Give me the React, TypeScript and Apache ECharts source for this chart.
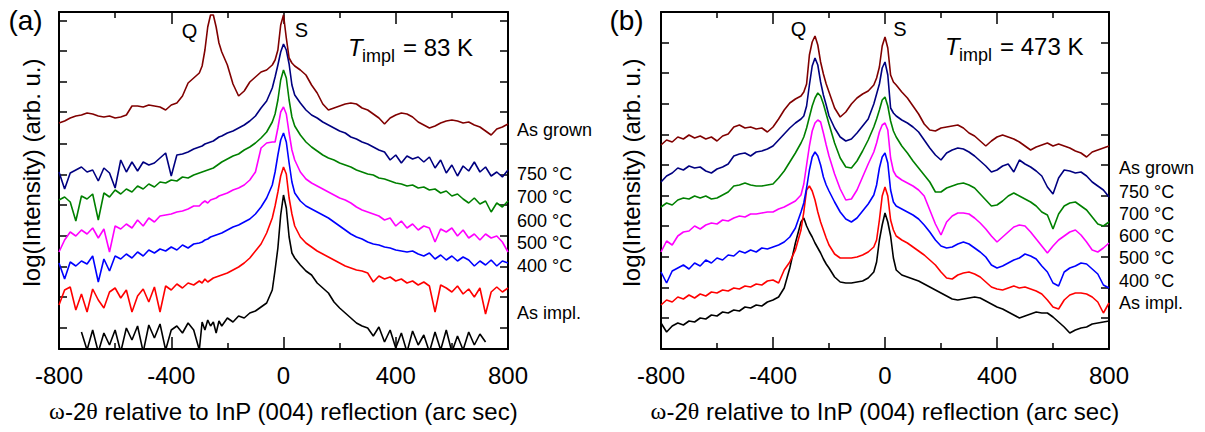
import { useEffect, useRef } from "react";
import * as echarts from "echarts";

// ---------- Panel (a): T_impl = 83 K ----------
const XA = [
  -800, -780, -760, -740, -720, -700, -680, -660, -640, -620, -600, -580, -560, -540, -520, -500, -480, -460, -440, -420, -400, -380, -360, -340, -320, -300,
  -290, -280, -270, -260, -250, -240, -230, -220,
  -200, -180, -160, -140, -120, -100, -80, -60, -40,
  -30, -20, -10, 0, 10, 20, 30,
  40, 60, 80, 100, 120, 140, 160, 180, 200, 220, 240, 260, 280, 300, 320, 340, 360, 380, 400, 420, 440, 460, 480, 500, 520, 540, 560, 580, 600, 620, 640, 660, 680, 700, 720, 740, 760, 780, 800,
];
const A_AS_GROWN = [
  226, 228, 231, 233, 234, 236, 235, 233, 232, 233, 231, 232, 234, 243, 243, 242, 244, 243, 242, 239, 244, 246, 253, 266, 271, 276,
  283, 299, 322, 334, 334, 322, 306, 297,
  284, 265, 253, 258, 267, 272, 277, 279, 284,
  289, 299, 324, 334, 311, 291, 286,
  283, 279, 274, 264, 256, 245, 239, 241, 243, 245, 246, 245, 241, 239, 235, 231, 225, 231, 234, 236, 235, 232, 227, 224, 221, 223, 226, 228, 229, 228, 226, 227, 224, 222, 218, 214, 220, 222, 225,
];
const A_750 = [
  177, 160, 176, 179, 182, 177, 179, 168, 181, 176, 161, 189, 177, 187, 178, 187, 184, 186, 191, 196, 173, 194, 195, 197, 200, 202,
  203, 205, 206, 207, 208, 210, 212, 213,
  216, 218, 221, 224, 228, 233, 241, 248, 261,
  272, 284, 297, 305, 299, 285, 264,
  254, 246, 239, 234, 231, 227, 224, 221, 218, 216, 212, 210, 207, 205, 202, 199, 197, 189, 194, 186, 193, 190, 192, 187, 192, 181, 189, 176, 184, 173, 183, 178, 187, 177, 182, 173, 177, 172, 179,
];
const A_700 = [
  149, 152, 147, 128, 153, 150, 155, 129, 156, 152, 159, 155, 160, 157, 163, 160, 165, 162, 167, 166, 169, 168, 172, 171, 174, 176,
  177, 178, 179, 180, 181, 183, 185, 187,
  190, 193, 195, 199, 202, 206, 211, 217, 227,
  235, 249, 269, 279, 271, 249, 232,
  223, 214, 207, 202, 198, 194, 191, 189, 186, 184, 182, 179, 177, 175, 174, 171, 170, 168, 166, 165, 163, 164, 161, 162, 159, 160, 156, 158, 153, 155, 150, 146, 151, 145, 148, 137, 146, 142, 148,
];
const A_600 = [
  97, 109, 117, 113, 119, 115, 121, 111, 120, 97, 123, 120, 125, 121, 129, 123, 131, 127, 133, 134, 135, 137, 138, 140, 143, 143,
  146, 148, 146, 149, 150, 151, 153, 154,
  156, 159, 161, 164, 169, 177, 201, 206, 207,
  207, 221, 237, 242, 235, 216, 199,
  189, 177, 170, 166, 163, 160, 157, 154, 151, 149, 146, 142, 139, 137, 135, 133, 129, 131, 123, 128, 121, 125, 119, 123, 121, 107, 120, 117, 121, 113, 119, 111, 115, 109, 115, 111, 113, 107, 97,
];
const A_500 = [
  86, 70, 87, 83, 88, 85, 93, 67, 90, 78, 93, 90, 95, 91, 97, 93, 99, 96, 100, 98, 102, 99, 104, 101, 105, 106,
  107, 109, 110, 112, 113, 114, 115, 116,
  119, 122, 124, 127, 130, 135, 142, 151, 164,
  177, 194, 209, 216, 207, 186, 167,
  156, 148, 143, 140, 137, 134, 131, 127, 123, 119, 115, 112, 110, 107, 105, 104, 102, 101, 99, 98, 97, 98, 95, 93, 96, 90, 94, 89, 93, 88, 92, 89, 83, 88, 84, 89, 83, 88, 86,
];
const A_400 = [
  44, 59, 62, 39, 55, 37, 60, 49, 41, 57, 61, 51, 59, 37, 53, 60, 47, 62, 37, 63, 59, 65, 61, 66, 64, 68,
  66, 70, 67, 69, 71, 72, 73, 74,
  76, 79, 82, 86, 91, 98, 105, 116, 131,
  143, 157, 173, 182, 175, 151, 135,
  123, 112, 106, 102, 98, 95, 92, 89, 86, 83, 81, 79, 78, 76, 67, 73, 70, 72, 68, 70, 66, 68, 64, 67, 63, 37, 64, 61, 57, 63, 55, 60, 52, 61, 35, 57, 62, 57, 61,
];
const A_AS_IMPL = [
  null, null, null, null, 17, -1, 19, -3, 16, 4, 19, -3, 21, 9, 23, -3, 24, 11, 25, -1, 19, 23, 16, 26, 19, -1,
  27, 19, 29, 23, 27, 16, 28, 23,
  31, 27, 33, 31, 36, 38, 42, 46, 59,
  79, 101, 134, 154, 141, 112, 96,
  91, 84, 78, 74, 66, 61, 56, 47, 41, 36, 31, 26, 23, 21, 13, 22, 7, 19, 1, 16, -3, 18, 4, 14, -3, 17, -1, 19, -3, 13, -1, 17, 4, 15, 7, null, null, null, null,
];

// ---------- Panel (b): T_impl = 473 K ----------
const XB = [
  -800, -780, -760, -740, -720, -700, -680, -660, -640, -620, -600, -580, -560, -540, -520, -500, -480, -460, -440, -420, -400, -380, -360, -340, -320, -300,
  -290, -280, -270, -260, -250, -240, -230, -220, -210, -200,
  -180, -160, -140, -120, -100, -80, -60, -40,
  -30, -20, -10, 0, 10, 20, 30,
  40, 60, 80, 100, 120, 140, 160, 180, 200, 220, 240, 260, 280, 300, 320, 340, 360, 380, 400, 420, 440, 460, 480, 500, 520, 540, 560, 580, 600, 620, 640, 660, 680, 700, 720, 740, 760, 780, 800,
];
const B_AS_GROWN = [
  204, 209, 207, 212, 210, 214, 211, 213, 210, 212, 208, 213, 215, 222, 224, 221, 222, 220, 221, 217, 222, 230, 239, 246, 250, 253,
  257, 265, 294, 307, 313, 304, 287, 275, 265, 257,
  241, 232, 237, 245, 251, 255, 258, 264,
  271, 282, 303, 312, 301, 274, 267,
  264, 257, 251, 243, 235, 225, 219, 218, 221, 222, 223, 224, 221, 216, 213, 208, 203, 208, 212, 214, 212, 210, 207, 203, 199, 202, 204, 206, 203, 205, 203, 201, 198, 196, 192, 197, 199, 201, 203,
];
const B_750 = [
  167, 173, 176, 181, 179, 183, 181, 182, 178, 176, 180, 182, 185, 193, 195, 196, 193, 197, 198, 200, 203, 209, 215, 221, 226, 230,
  233, 243, 264, 283, 291, 284, 267, 254, 244, 233,
  221, 212, 208, 210, 216, 223, 230, 245,
  255, 265, 281, 287, 274, 241, 236,
  233, 229, 226, 222, 217, 209, 201, 194, 189, 196, 199, 201, 200, 197, 193, 188, 183, 177, 179, 183, 185, 177, 189, 185, 182, 178, 173, 162, 155, 171, 179, 178, 176, 177, 173, 167, 163, 159, 152,
];
const B_700 = [
  142, 146, 144, 149, 151, 150, 153, 151, 153, 150, 151, 154, 157, 163, 164, 166, 164, 163, 163, 164, 165, 171, 178, 187, 196, 206,
  212, 221, 232, 243, 251, 256, 253, 245, 235, 225,
  206, 191, 182, 181, 188, 198, 209, 222,
  230, 239, 249, 252, 243, 228, 218,
  212, 203, 196, 188, 181, 174, 167, 157, 157, 161, 163, 165, 166, 164, 161, 155, 149, 143, 144, 148, 153, 156, 153, 150, 147, 143, 137, 134, 120, 135, 143, 146, 147, 143, 139, 132, 125, 123, 127,
];
const B_600 = [
  97, 108, 104, 113, 117, 118, 123, 120, 124, 126, 125, 129, 128, 131, 133, 132, 135, 135, 136, 137, 137, 140, 142, 145, 148, 154,
  165, 184, 203, 218, 226, 229, 227, 216, 204, 193,
  175, 160, 149, 150, 159, 172, 185, 197,
  206, 217, 224, 226, 219, 191, 178,
  173, 169, 166, 163, 159, 153, 139, 125, 114, 127, 133, 136, 136, 135, 131, 126, 120, 113, 107, 112, 117, 122, 124, 123, 117, 110, 103, 96, 103, 109, 113, 117, 119, 114, 107, 99, 97, 101, 106,
];
const B_500 = [
  77, 66, 78, 81, 84, 80, 86, 83, 89, 86, 91, 89, 94, 93, 98, 96, 99, 97, 101, 100, 102, 104, 107, 112, 121, 137,
  146, 161, 179, 192, 197, 193, 184, 172, 164, 158,
  147, 137, 130, 127, 131, 138, 145, 154,
  164, 181, 192, 196, 186, 159, 147,
  143, 140, 137, 134, 130, 124, 117, 109, 103, 101, 102, 105, 107, 105, 101, 97, 92, 84, 81, 83, 86, 89, 91, 95, 93, 90, 83, 77, 66, 63, 77, 81, 83, 86, 85, 80, 75, 64, 61,
];
const B_400 = [
  44, 49, 47, 52, 50, 54, 51, 55, 53, 57, 56, 59, 58, 61, 60, 63, 62, 65, 64, 68, 69, 66, 79, 87, 99, 119,
  137, 159, 163, 158, 149, 137, 127, 119, 111, 104,
  95, 91, 91, 91, 92, 94, 97, 102,
  109, 129, 153, 162, 153, 129, 119,
  113, 109, 106, 102, 98, 94, 89, 84, 77, 71, 70, 74, 76, 77, 75, 72, 67, 62, 60, 59, 61, 63, 61, 62, 60, 58, 55, 49, 42, 40, 49, 54, 56, 56, 55, 52, 47, 36, 46,
];
const B_AS_IMPL = [
  26, 17, 23, 26, 24, 28, 27, 31, 30, 34, 33, 37, 36, 39, 38, 42, 41, 44, 43, 47, 49, 52, 61, 81, 106, 127,
  131, 123, 117, 112, 106, 101, 96, 90, 85, 81,
  72, 67, 66, 66, 67, 68, 71, 77,
  87, 109, 124, 136, 127, 113, 91,
  79, 74, 72, 70, 68, 65, 62, 59, 56, 53, 50, 49, 50, 51, 52, 51, 48, 45, 42, 40, 37, 34, 31, 33, 35, 37, 36, 36, 32, 27, 22, 16, 19, 21, 22, 25, 26, 27, 28,
];

const CURVE_LABELS = ["As grown", "750 °C", "700 °C", "600 °C", "500 °C", "400 °C", "As impl."];
const COLORS = ["#800000", "#000080", "#008000", "#ff00ff", "#0000ff", "#ff0000", "#000000"];
const Y_TICKS_A = [21, 52, 82, 113, 144, 174, 205, 237, 267, 298, 328];
const Y_TICKS_B = [31, 61, 92, 123, 153, 184, 214, 245, 276, 306];

const FONT = "'Liberation Sans', Arial, Helvetica, sans-serif";

export default function App() {
  const ref = useRef<HTMLDivElement>(null);
  useEffect(() => {
    if (!ref.current) return;
    const chart = echarts.init(ref.current, null, { renderer: "svg" });

    const lineStyle = { color: "#000", width: 2 };
    const tickStyle = { color: "#000", width: 1.5 };
    const xName = "{g|ω}-2{g|θ} relative to InP (004) reflection (arc sec)";

    const xAxis = (gridIndex: number, position: string, labels: boolean) => ({
      type: "value",
      gridIndex,
      position,
      min: -800,
      max: 800,
      interval: 400,
      axisLine: { show: true, onZero: false, lineStyle },
      axisTick: { show: true, inside: true, length: 12, lineStyle: tickStyle },
      minorTick: { show: true, splitNumber: 2, length: 6, lineStyle: tickStyle },
      splitLine: { show: false },
      minorSplitLine: { show: false },
      axisLabel: { show: labels, fontSize: 24, color: "#000", fontFamily: FONT, margin: 14 },
      name: labels ? xName : "",
      nameLocation: "middle",
      nameGap: 50,
      nameTextStyle: {
        fontSize: 24,
        color: "#000",
        fontFamily: FONT,
        rich: { g: { fontFamily: "'Liberation Serif', 'Times New Roman', serif", fontSize: 24, color: "#000" } },
      },
    });
    const yAxis = (gridIndex: number, position: string, ticks: number[]) => ({
      type: "value",
      gridIndex,
      position,
      min: 0,
      max: 337,
      axisLine: { show: true, onZero: false, lineStyle },
      axisTick: { show: true, inside: true, length: 8, customValues: ticks, lineStyle: tickStyle },
      axisLabel: { show: false },
      splitLine: { show: false },
    });

    const mk = (xs: number[], ys: (number | null)[], idx: number, xi: number, yi: number) => ({
      type: "line",
      name: CURVE_LABELS[idx] + (xi === 0 ? " (a)" : " (b)"),
      xAxisIndex: xi,
      yAxisIndex: yi,
      data: xs.map((x, i) => [x, ys[i]]).filter((p) => p[1] !== null),
      showSymbol: false,
      symbol: "none",
      silent: true,
      z: 10 - idx,
      lineStyle: { color: COLORS[idx], width: 1.6 },
      itemStyle: { color: COLORS[idx] },
    });

    const A = [A_AS_GROWN, A_750, A_700, A_600, A_500, A_400, A_AS_IMPL];
    const B = [B_AS_GROWN, B_750, B_700, B_600, B_500, B_400, B_AS_IMPL];

    const txt = (x: number, y: number, text: string, font: string, align = "center", extra: any = {}) => ({
      type: "text",
      x,
      y,
      ...extra,
      style: { text, font, fill: "#000", textAlign: align, textVerticalAlign: "middle", align, verticalAlign: "middle" },
    });

    const labelYA = [130, 174, 197, 221, 243, 266, 313];
    const labelYB = [168, 192, 214, 236, 258, 281, 303];

    const graphic: any[] = [
      txt(25.5, 20.5, "(a)", `28px ${FONT}`),
      txt(626.5, 20.5, "(b)", `28px ${FONT}`),
      txt(189.5, 31, "Q", `20px ${FONT}`),
      txt(301.5, 29.5, "S", `20px ${FONT}`),
      txt(798.5, 29, "Q", `20px ${FONT}`),
      txt(900, 28.5, "S", `20px ${FONT}`),
      txt(348, 47.5, "T", `italic 24px ${FONT}`, "left"),
      txt(362, 55.5, "impl", `18px ${FONT}`, "left"),
      txt(403, 47.5, "= 83 K", `24px ${FONT}`, "left"),
      txt(945, 46.5, "T", `italic 24px ${FONT}`, "left"),
      txt(959, 54.5, "impl", `18px ${FONT}`, "left"),
      txt(1000, 46.5, "= 473 K", `24px ${FONT}`, "left"),
      txt(31, 172.5, "log(Intensity) (arb. u.)", `24px ${FONT}`, "center", { rotation: Math.PI / 2 }),
      txt(631, 172.5, "log(Intensity) (arb. u.)", `24px ${FONT}`, "center", { rotation: Math.PI / 2 }),
      ...CURVE_LABELS.map((t, i) => txt(517, labelYA[i], t, `18px ${FONT}`, "left")),
      ...CURVE_LABELS.map((t, i) => txt(1119, labelYB[i], t, `18px ${FONT}`, "left")),
    ];

    chart.setOption({
      animation: false,
      backgroundColor: "#fff",
      textStyle: { fontFamily: FONT },
      grid: [
        { left: 59, top: 12, width: 449, height: 337, containLabel: false },
        { left: 661, top: 12, width: 448, height: 337, containLabel: false },
      ],
      xAxis: [xAxis(0, "bottom", true), xAxis(0, "top", false), xAxis(1, "bottom", true), xAxis(1, "top", false)],
      yAxis: [yAxis(0, "left", Y_TICKS_A), yAxis(0, "right", Y_TICKS_A), yAxis(1, "left", Y_TICKS_B), yAxis(1, "right", Y_TICKS_B)],
      series: [...A.map((ys, i) => mk(XA, ys, i, 0, 0)), ...B.map((ys, i) => mk(XB, ys, i, 2, 2))],
      graphic,
    });
    return () => chart.dispose();
  }, []);
  return (
    <div
      ref={ref}
      style={{ position: "absolute", left: 0, top: 0, width: 1205, height: 432, background: "#fff" }}
    />
  );
}
